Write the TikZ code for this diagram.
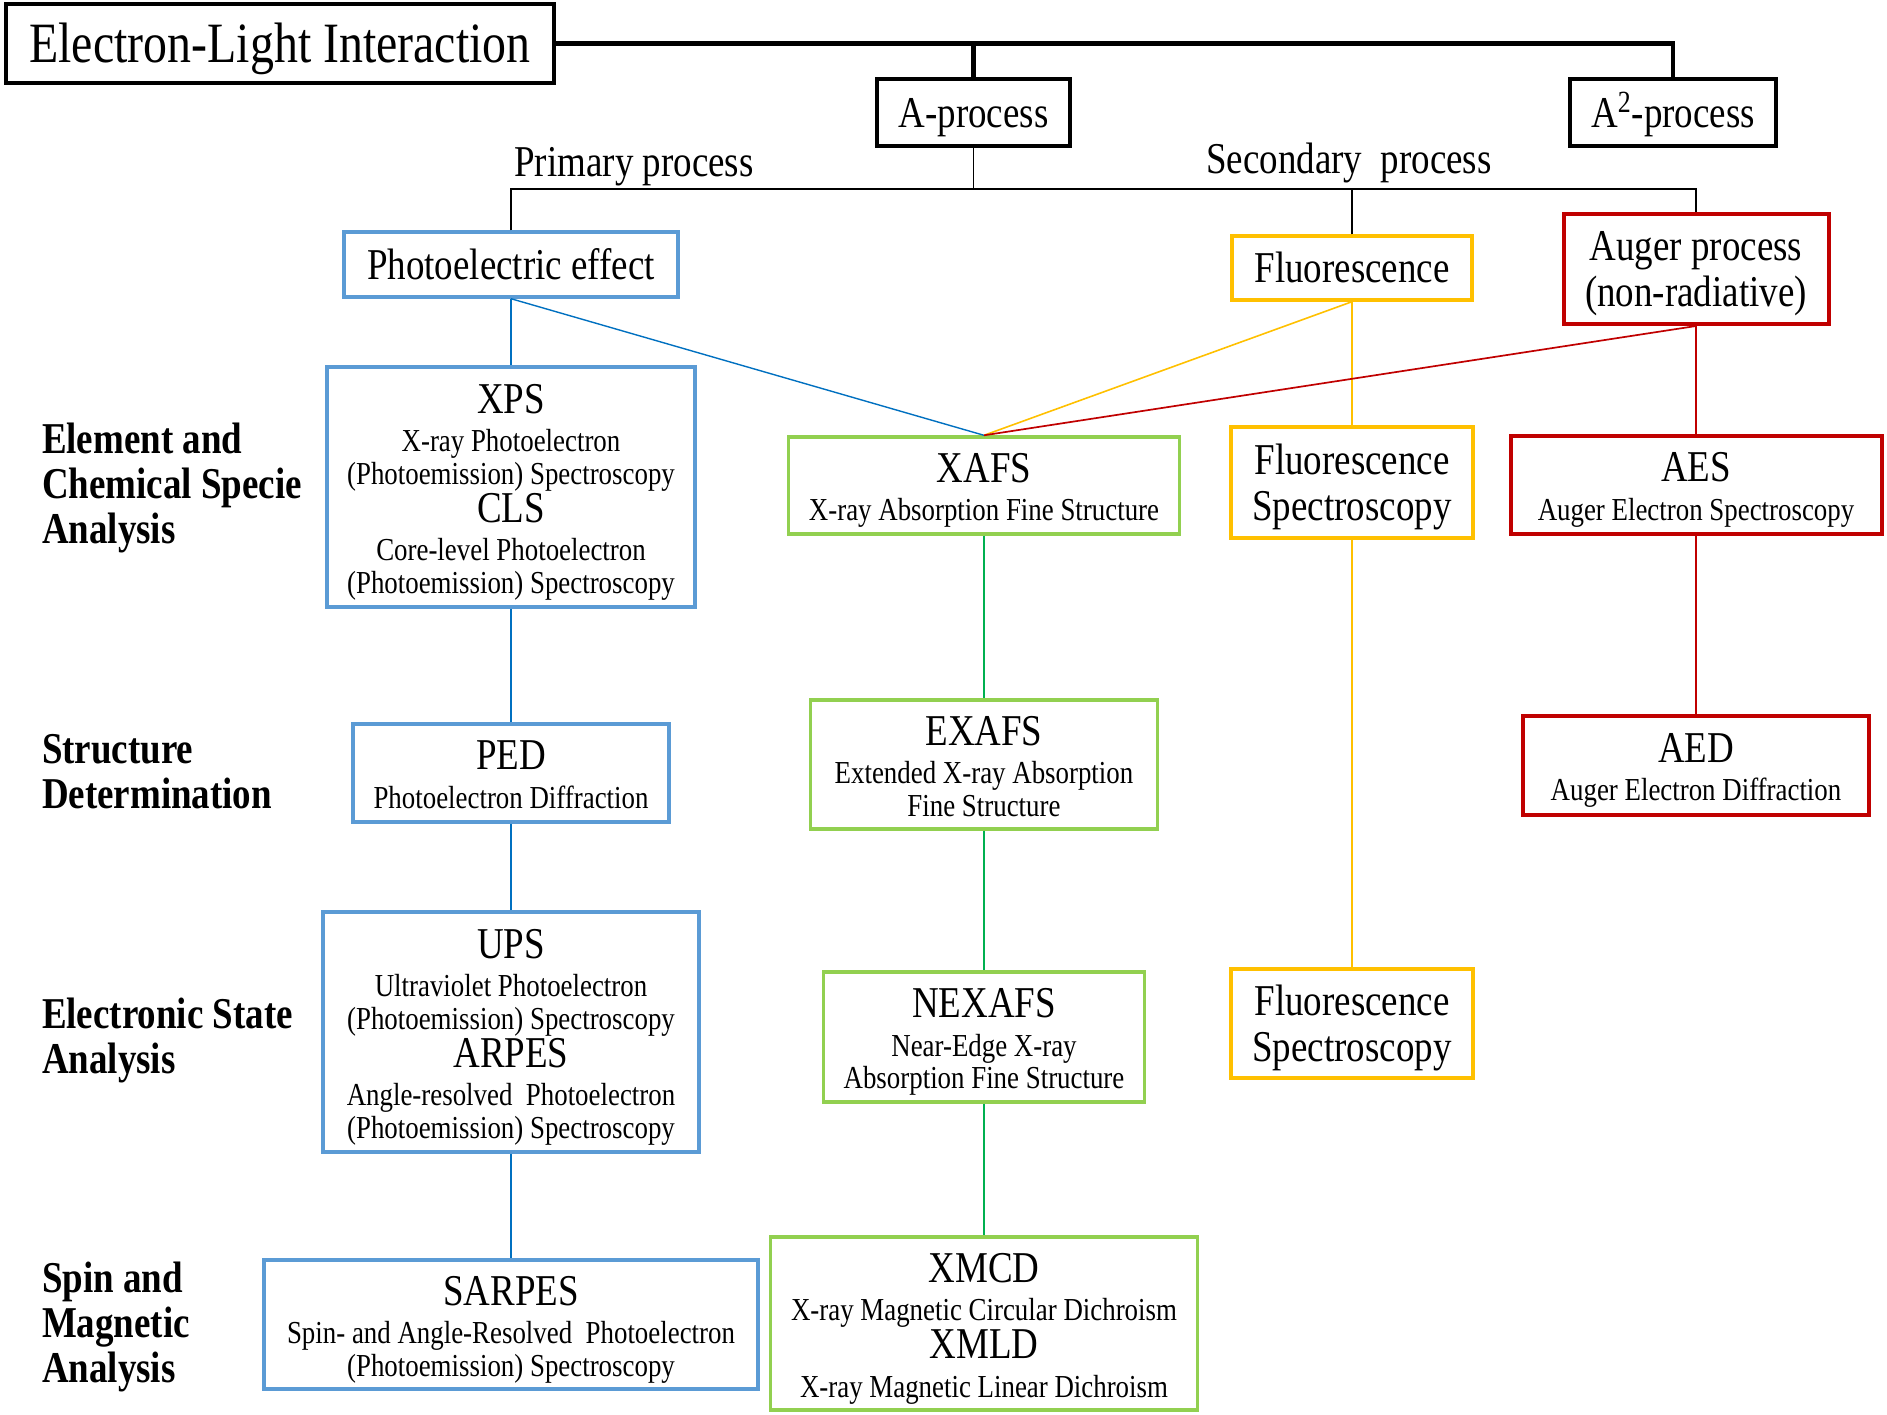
\documentclass[tikz,border=0pt]{standalone}
\usepackage{fontspec}
\setmainfont{Liberation Serif}[FakeStretch=0.84]
\definecolor{boxblue}{HTML}{5B9BD5}
\definecolor{lineblue}{HTML}{0070C0}
\definecolor{boxgreen}{HTML}{92D050}
\definecolor{linegreen}{HTML}{00B050}
\definecolor{myorange}{HTML}{FFC000}
\definecolor{myred}{HTML}{C00000}
\newcommand{\bigline}[1]{{\fontsize{22}{16.25}\selectfont #1}}
% struts reproducing the font's ascent/descent line box
\newcommand{\tB}{\rule{0pt}{19.6pt}}
\newcommand{\bB}{\rule[-4.75pt]{0pt}{0pt}}
\newcommand{\bS}{\rule[-3.46pt]{0pt}{0pt}}
\newcommand{\tT}{\rule{0pt}{25.4pt}}
\newcommand{\bT}{\rule[-6.16pt]{0pt}{0pt}}
\begin{document}
\begin{tikzpicture}[x=0.5pt,y=-0.5pt,
  basebox/.style={rectangle, draw, inner sep=0pt, align=center, text=black},
  smallbox/.style={basebox, font=\fontsize{16}{16.25}\selectfont},
  largebox/.style={basebox, font=\fontsize{22}{22.9}\selectfont},
  blackbox/.style={largebox, line width=2.1pt},
  bluebox/.style={draw=boxblue, line width=1.7pt},
  greenbox/.style={draw=boxgreen, line width=1.7pt},
  orangebox/.style={draw=myorange, line width=1.7pt},
  redbox/.style={draw=myred, line width=2pt},
  sidelabel/.style={anchor=west, align=left, font=\fontsize{22}{22.5}\selectfont\bfseries},
  plainlabel/.style={font=\fontsize{22}{22.9}\selectfont}
]
\useasboundingbox (0,0) rectangle (1887,1415);

% top level
\node[basebox, line width=2.3pt, font=\fontsize{28.5}{30}\selectfont, minimum width=274pt, minimum height=39.5pt] (title) at (280,43.5) {\tT Electron-Light Interaction\bT};
\node[blackbox, minimum width=96.5pt, minimum height=33.5pt] (aproc) at (973.5,112.5) {\tB A-process\bB};
\node[blackbox, minimum width=103pt, minimum height=33.5pt] (a2proc) at (1673,112.5) {\tB A\textsuperscript{2}-process\bB};

% second level
\node[largebox, bluebox, minimum width=167pt, minimum height=32.5pt] (photo) at (511,264.5) {\tB Photoelectric effect\bB};
\node[largebox, orangebox, minimum width=120pt, minimum height=32pt] (fluor) at (1352,268) {\tB Fluorescence\bB};
\node[largebox, redbox, minimum width=132.5pt, minimum height=55pt] (auger) at (1696,269) {\tB Auger process\\(non-radiative)\bB};

\node[plainlabel] (primlab) at (634,162) {\tB Primary process\bB};
\node[plainlabel] (seclab) at (1349,159) {\tB Secondary\ \ process\bB};

% third level
\node[smallbox, bluebox, minimum width=184pt, minimum height=120pt] (xps) at (511,487)
 {\bigline{\tB XPS}\\[3pt]X-ray Photoelectron\\(Photoemission) Spectroscopy\\\bigline{CLS}\\[3pt]Core-level Photoelectron\\(Photoemission) Spectroscopy\bS};
\node[smallbox, greenbox, minimum width=195.5pt, minimum height=48.5pt] (xafs) at (984,485.5)
 {\bigline{\tB XAFS}\\[3pt]X-ray Absorption Fine Structure\bS};
\node[largebox, orangebox, minimum width=121pt, minimum height=55.5pt] (fs1) at (1352,482.5) {\tB Fluorescence\\Spectroscopy\bB};
\node[smallbox, redbox, minimum width=185.5pt, minimum height=49pt] (aes) at (1696,485)
 {\bigline{\tB AES}\\[3pt]Auger Electron Spectroscopy\bS};

% fourth level
\node[smallbox, bluebox, minimum width=158pt, minimum height=49pt] (ped) at (511,773)
 {\bigline{\tB PED}\\[3pt]Photoelectron Diffraction\bS};
\node[smallbox, greenbox, minimum width=173.5pt, minimum height=64.5pt] (exafs) at (984,764.5)
 {\bigline{\tB EXAFS}\\[3pt]Extended X-ray Absorption\\Fine Structure\bS};
\node[smallbox, redbox, minimum width=173pt, minimum height=49.5pt] (aed) at (1696,765.5)
 {\bigline{\tB AED}\\[3pt]Auger Electron Diffraction\bS};

% fifth level
\node[smallbox, bluebox, minimum width=188pt, minimum height=120pt] (ups) at (511,1032)
 {\bigline{\tB UPS}\\[3pt]Ultraviolet Photoelectron\\(Photoemission) Spectroscopy\\\bigline{ARPES}\\[3pt]Angle-resolved\ \ Photoelectron\\(Photoemission) Spectroscopy\bS};
\node[smallbox, greenbox, minimum width=160.5pt, minimum height=65pt] (nexafs) at (984,1037)
 {\bigline{\tB NEXAFS}\\[3pt]Near-Edge X-ray\\Absorption Fine Structure\bS};
\node[largebox, orangebox, minimum width=121pt, minimum height=54.5pt] (fs2) at (1352,1023.5) {\tB Fluorescence\\Spectroscopy\bB};

% sixth level
\node[smallbox, bluebox, minimum width=247pt, minimum height=64.5pt] (sarpes) at (511,1324.5)
 {\bigline{\tB SARPES}\\[3pt]Spin- and Angle-Resolved\ \ Photoelectron\\(Photoemission) Spectroscopy\bS};
\node[smallbox, greenbox, minimum width=213.5pt, minimum height=86.5pt] (xmcd) at (984,1323.5)
 {\bigline{\tB XMCD}\\[3pt]X-ray Magnetic Circular Dichroism\\\bigline{XMLD}\\[3pt]X-ray Magnetic Linear Dichroism\bS};

% side labels
\node[sidelabel] (lab1) at (35,484) {\tB Element and\\Chemical Specie\\Analysis\bB};
\node[sidelabel] (lab2) at (35,771.5) {\tB Structure\\Determination\bB};
\node[sidelabel] (lab3) at (35,1036.5) {\tB Electronic State\\Analysis\bB};
\node[sidelabel] (lab4) at (35,1323) {\tB Spin and\\Magnetic\\Analysis\bB};

% connectors: top
\draw[line width=2.4pt] (title.east) -| (a2proc.north);
\draw[line width=2.4pt] (aproc.north) -- (aproc.north |- title.east);
\coordinate (bus) at (973.5,189);
\draw[line width=0.9pt] (aproc.south) -- (bus);
\draw[line width=0.9pt] (photo.north) -- (photo.north |- bus) -| (auger.north);
\draw[line width=0.9pt] (fluor.north) -- (fluor.north |- bus);

% blue
\draw[lineblue, line width=1.1pt] (photo.south) -- (xps.north);
\draw[lineblue, line width=1.1pt] (xps.south) -- (ped.north);
\draw[lineblue, line width=1.1pt] (ped.south) -- (ups.north);
\draw[lineblue, line width=1.1pt] (ups.south) -- (sarpes.north);
\draw[lineblue, line width=0.7pt] (photo.south) -- (xafs.north);

% orange
\draw[myorange, line width=0.8pt] (fluor.south) -- (xafs.north);
\draw[myorange, line width=0.9pt] (fluor.south) -- (fs1.north);
\draw[myorange, line width=0.9pt] (fs1.south) -- (fs2.north);

% red
\draw[myred, line width=0.85pt] (auger.south) -- (xafs.north);
\draw[myred, line width=0.7pt] (auger.south) -- (aes.north);
\draw[myred, line width=0.7pt] (aes.south) -- (aed.north);

% green
\draw[linegreen, line width=0.7pt] (xafs.south) -- (exafs.north);
\draw[linegreen, line width=0.7pt] (exafs.south) -- (nexafs.north);
\draw[linegreen, line width=0.7pt] (nexafs.south) -- (xmcd.north);
\end{tikzpicture}
\end{document}
